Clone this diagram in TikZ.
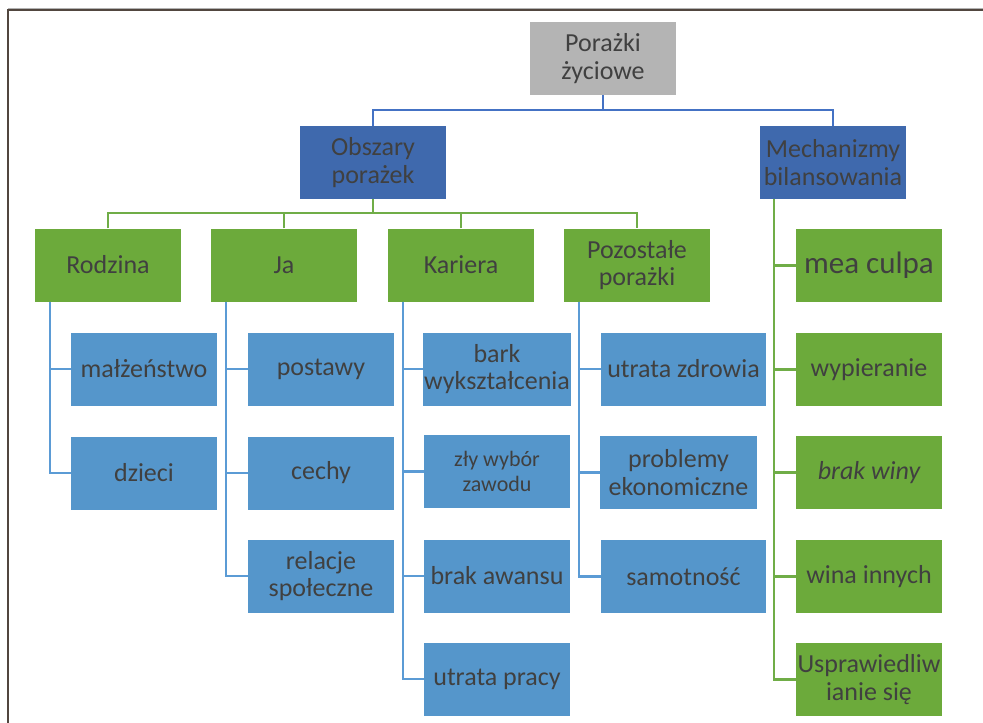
\documentclass[tikz,border=0pt]{standalone}
\usepackage{fontspec}
\setmainfont{Carlito}
\definecolor{rootgray}{HTML}{B4B4B4}
\definecolor{darkblue}{HTML}{3F69AD}
\definecolor{leafgreen}{HTML}{6CAA3B}
\definecolor{leafblue}{HTML}{5596CB}
\definecolor{lineblue}{HTML}{4472C4}
\definecolor{linegreen}{HTML}{70AD47}
\definecolor{linelblue}{HTML}{5B9BD5}
\definecolor{txt}{HTML}{404040}
\definecolor{framec}{HTML}{51463F}
\begin{document}
\begin{tikzpicture}[x=1pt,y=-1pt,
  box/.style={rectangle, minimum width=146pt, minimum height=73pt, inner sep=1pt,
    align=center, text=txt, font=\fontsize{26}{27.5}\selectfont},
  graybox/.style={box, fill=rootgray},
  dbbox/.style={box, fill=darkblue},
  gbox/.style={box, fill=leafgreen},
  lbbox/.style={box, fill=leafblue},
  conb/.style={draw=lineblue, line width=2.4pt},
  cong/.style={draw=linegreen, line width=2.2pt},
  conl/.style={draw=linelblue, line width=2.2pt}]
\useasboundingbox (0,0) rectangle (983,723);
\draw[gray!60, line width=1pt] (8,8.8) -- (983,8.8);
\draw[framec, line width=1.5pt] (8,723) -- (8,10) -- (983,10);

\node[graybox] (root) at (603,58.5) {Porażki\\życiowe};
\node[dbbox] (obsz) at (373,162.5) {Obszary\\porażek};
\node[dbbox] (mech) at (833,162.5) {Mechanizmy\\bilansowania};

\node[gbox] (rodz) at (108,265) {Rodzina};
\node[gbox] (ja) at (284,265) {Ja};
\node[gbox] (kar) at (461,265) {Kariera};
\node[gbox] (poz) at (637,265) {Pozostałe\\porażki};

\node[lbbox] (r1) at (144,369) {małżeństwo};
\node[lbbox] (r2) at (144,473) {dzieci};

\node[lbbox] (j1) at (321,369) {postawy};
\node[lbbox] (j2) at (321,473) {cechy};
\node[lbbox] (j3) at (321,576) {relacje\\społeczne};

\node[lbbox] (k1) at (497,369) {bark\\wykształcenia};
\node[lbbox, font=\fontsize{22}{25}\selectfont] (k2) at (497,471.5) {zły wybór\\zawodu};
\node[lbbox] (k3) at (497,576) {brak awansu};
\node[lbbox] (k4) at (497,679) {utrata pracy};

\node[lbbox, minimum width=165pt] (p1) at (683.5,369) {utrata zdrowia};
\node[lbbox, minimum width=157pt] (p2) at (678.5,472.5) {problemy\\ekonomiczne};
\node[lbbox, minimum width=165pt] (p3) at (683.5,576.5) {samotność};

\node[gbox, font=\fontsize{31}{34}\selectfont] (m1) at (869,265.5) {mea culpa};
\node[gbox] (m2) at (869,369.5) {wypieranie};
\node[gbox, font=\fontsize{26}{27.5}\selectfont\itshape] (m3) at (869,472.5) {brak winy};
\node[gbox] (m4) at (869,576.5) {wina innych};
\node[gbox] (m5) at (869,679.5) {Usprawiedliw\\ianie się};

\coordinate (ja1) at (603,110);
\coordinate (ja2) at (373,213);

\draw[conb] (root.south) -- (ja1);
\draw[conb] (obsz.north) |- (ja1) -| (mech.north);

\draw[cong] (obsz.south) -- (ja2);
\draw[cong] (rodz.north) |- (ja2) -| (poz.north);
\draw[cong] (ja.north) -- (ja.north |- ja2);
\draw[cong] (kar.north) -- (kar.north |- ja2);

\draw[conl] ([xshift=15pt]rodz.south west) |- (r1.west);
\draw[conl] ([xshift=15pt]rodz.south west) |- (r2.west);

\draw[conl] ([xshift=15pt]ja.south west) |- (j1.west);
\draw[conl] ([xshift=15pt]ja.south west) |- (j2.west);
\draw[conl] ([xshift=15pt]ja.south west) |- (j3.west);

\draw[conl] ([xshift=15pt]kar.south west) |- (k1.west);
\draw[conl] ([xshift=15pt]kar.south west) |- (k2.west);
\draw[conl] ([xshift=15pt]kar.south west) |- (k3.west);
\draw[conl] ([xshift=15pt]kar.south west) |- (k4.west);

\draw[conl] ([xshift=15pt]poz.south west) |- (p1.west);
\draw[conl] ([xshift=15pt]poz.south west) |- (p2.west);
\draw[conl] ([xshift=15pt]poz.south west) |- (p3.west);

\draw[cong] ([xshift=14pt]mech.south west) |- (m1.west);
\draw[cong] ([xshift=14pt]mech.south west) |- (m2.west);
\draw[cong] ([xshift=14pt]mech.south west) |- (m3.west);
\draw[cong] ([xshift=14pt]mech.south west) |- (m4.west);
\draw[cong] ([xshift=14pt]mech.south west) |- (m5.west);
\end{tikzpicture}
\end{document}
